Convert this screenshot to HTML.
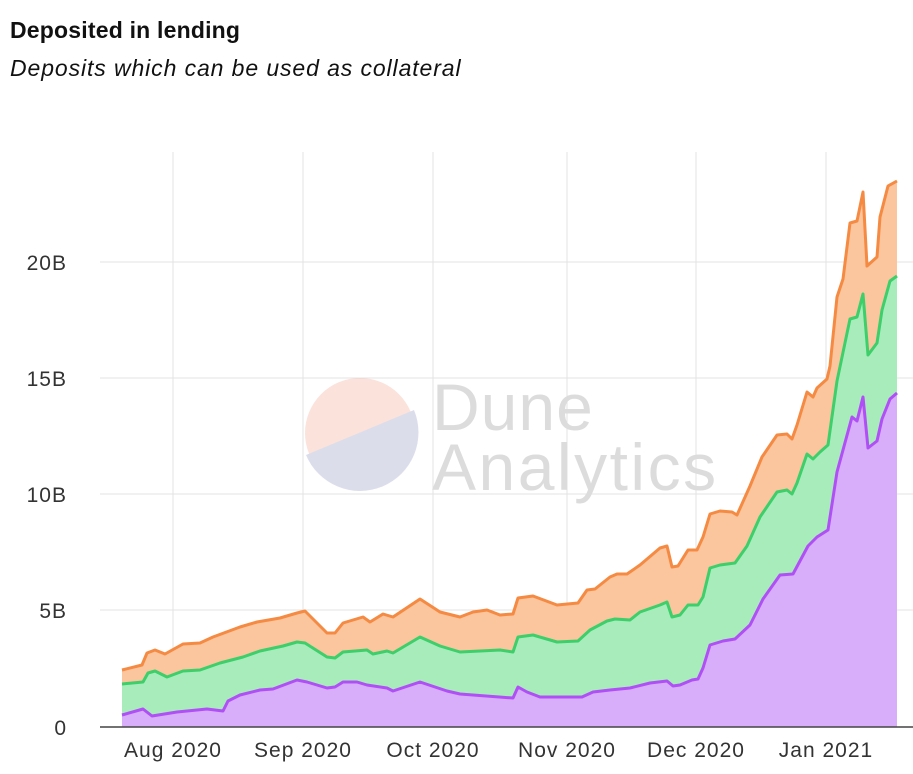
<!DOCTYPE html>
<html><head><meta charset="utf-8"><style>
body{margin:0;background:#fff;width:913px;height:774px;overflow:hidden;font-family:"Liberation Sans",sans-serif}
.t{position:absolute;left:10px;top:17px;font-size:23px;letter-spacing:0.2px;font-weight:bold;color:#111}
.s{position:absolute;left:10px;top:55px;font-size:23px;letter-spacing:0.9px;font-style:italic;color:#111}
</style></head><body>
<div class="t">Deposited in lending</div>
<div class="s">Deposits which can be used as collateral</div>
<svg width="913" height="774" style="position:absolute;left:0;top:0">
<g stroke="#e3e3e3" stroke-width="1">
<line x1="173" y1="152" x2="173" y2="727"/><line x1="303" y1="152" x2="303" y2="727"/><line x1="433" y1="152" x2="433" y2="727"/><line x1="567" y1="152" x2="567" y2="727"/><line x1="696" y1="152" x2="696" y2="727"/><line x1="826" y1="152" x2="826" y2="727"/>
<line x1="100" y1="610" x2="913" y2="610"/><line x1="100" y1="494" x2="913" y2="494"/><line x1="100" y1="378" x2="913" y2="378"/><line x1="100" y1="262" x2="913" y2="262"/>
</g>
<g opacity="0.3">
<circle cx="360" cy="433" r="55" fill="#f4a08a"/>
<path d="M306,455 L414,410 A55,55 0 0 1 306,455Z" fill="#8a90c0"/>
</g>
<text x="432" y="430" font-size="66" letter-spacing="1" fill="#dcdcdc" font-family="Liberation Sans">Dune</text>
<text x="432" y="490" font-size="66" letter-spacing="2.5" fill="#dcdcdc" font-family="Liberation Sans">Analytics</text>
<polygon fill="#fbc59e" points="122,727 122,670 142,665 147,653 155,650 165,654 183,644 200,643 213,637 240,627 257,622 280,618 297,613 305,611 327,633 335,633 343,623 363,617 370,622 383,614 393,617 420,599 440,612 460,617 473,612 487,610 500,615 513,614 518,598 533,596 557,605 578,603 587,590 595,589 610,577 617,574 627,574 640,565 660,548 667,546 672,567 678,566 688,550 697,550 703,537 710,514 720,511 732,512 737,515 750,486 762,457 777,435 787,434 792,439 797,425 807,392 813,397 817,388 827,379 830,366 837,297 843,279 850,223 857,221 863,192 867,266 877,257 880,217 888,186 897,181 897,727"/>
<polygon fill="#a8ecbc" points="122,727 122,684 143,682 148,673 155,671 167,677 183,671 200,670 220,663 243,657 260,651 283,646 297,642 305,643 327,657 335,658 343,652 367,650 373,654 387,651 393,653 420,637 440,646 460,652 500,650 513,652 518,637 533,635 557,642 578,641 590,630 607,621 615,619 630,620 640,612 660,605 667,602 672,617 680,615 688,605 698,605 703,597 710,568 720,565 735,563 747,546 760,517 777,492 787,490 792,494 797,483 807,454 813,459 820,452 828,445 837,381 850,319 857,317 863,294 868,355 877,343 882,310 890,281 897,276 897,727"/>
<polygon fill="#d8aefb" points="122,727 122,715 143,709 152,716 177,712 207,709 223,711 228,701 240,695 260,690 273,689 297,680 307,682 327,688 335,687 343,682 357,682 367,685 387,688 393,691 420,682 447,691 460,694 513,698 518,687 527,692 540,697 573,697 582,697 593,692 610,690 630,688 650,683 667,681 673,686 680,685 692,680 698,679 703,668 710,645 723,641 735,639 750,625 763,599 780,575 793,574 808,546 817,537 828,530 837,472 852,417 857,421 863,397 868,448 877,441 882,419 890,399 897,393 897,727"/>
<g fill="none" stroke-width="3" stroke-linejoin="round">
<polyline stroke="#f58a42" points="122,670 142,665 147,653 155,650 165,654 183,644 200,643 213,637 240,627 257,622 280,618 297,613 305,611 327,633 335,633 343,623 363,617 370,622 383,614 393,617 420,599 440,612 460,617 473,612 487,610 500,615 513,614 518,598 533,596 557,605 578,603 587,590 595,589 610,577 617,574 627,574 640,565 660,548 667,546 672,567 678,566 688,550 697,550 703,537 710,514 720,511 732,512 737,515 750,486 762,457 777,435 787,434 792,439 797,425 807,392 813,397 817,388 827,379 830,366 837,297 843,279 850,223 857,221 863,192 867,266 877,257 880,217 888,186 897,181"/>
<polyline stroke="#3ccf6a" points="122,684 143,682 148,673 155,671 167,677 183,671 200,670 220,663 243,657 260,651 283,646 297,642 305,643 327,657 335,658 343,652 367,650 373,654 387,651 393,653 420,637 440,646 460,652 500,650 513,652 518,637 533,635 557,642 578,641 590,630 607,621 615,619 630,620 640,612 660,605 667,602 672,617 680,615 688,605 698,605 703,597 710,568 720,565 735,563 747,546 760,517 777,492 787,490 792,494 797,483 807,454 813,459 820,452 828,445 837,381 850,319 857,317 863,294 868,355 877,343 882,310 890,281 897,276"/>
<polyline stroke="#b04ff5" points="122,715 143,709 152,716 177,712 207,709 223,711 228,701 240,695 260,690 273,689 297,680 307,682 327,688 335,687 343,682 357,682 367,685 387,688 393,691 420,682 447,691 460,694 513,698 518,687 527,692 540,697 573,697 582,697 593,692 610,690 630,688 650,683 667,681 673,686 680,685 692,680 698,679 703,668 710,645 723,641 735,639 750,625 763,599 780,575 793,574 808,546 817,537 828,530 837,472 852,417 857,421 863,397 868,448 877,441 882,419 890,399 897,393"/>
</g>
<line x1="100" y1="727" x2="913" y2="727" stroke="#444" stroke-width="1.5"/>
<g font-size="21" letter-spacing="1" fill="#333" text-anchor="end" font-family="Liberation Sans">
<text x="67" y="735">0</text><text x="67" y="618">5B</text><text x="67" y="502">10B</text><text x="67" y="386">15B</text><text x="67" y="270">20B</text>
</g>
<g font-size="21" letter-spacing="1" fill="#333" text-anchor="middle" font-family="Liberation Sans">
<text x="173" y="757">Aug 2020</text><text x="303" y="757">Sep 2020</text><text x="433" y="757">Oct 2020</text><text x="567" y="757">Nov 2020</text><text x="696" y="757">Dec 2020</text><text x="826" y="757">Jan 2021</text>
</g>
</svg>
</body></html>
